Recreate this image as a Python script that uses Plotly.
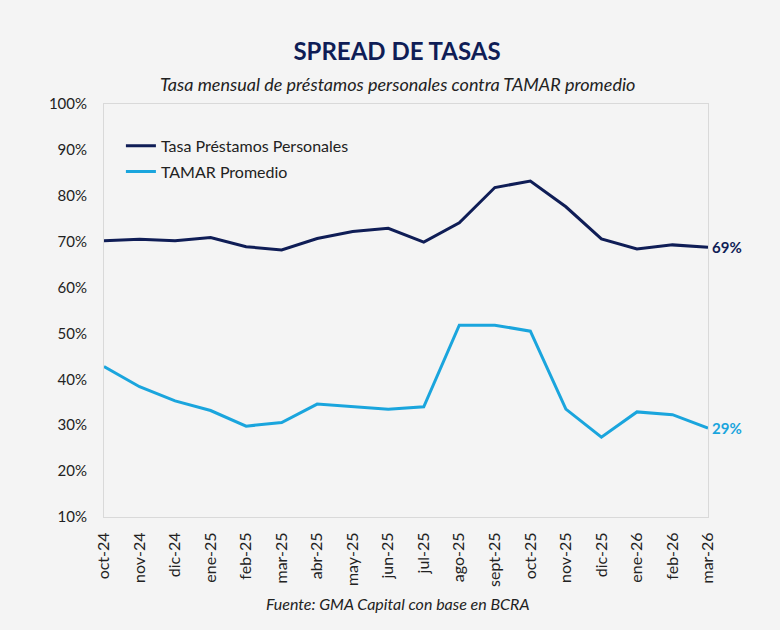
import plotly.graph_objects as go

months = ["oct-24", "nov-24", "dic-24", "ene-25", "feb-25", "mar-25", "abr-25", "may-25",
          "jun-25", "jul-25", "ago-25", "sept-25", "oct-25", "nov-25", "dic-25", "ene-26",
          "feb-26", "mar-26"]
tasa_prestamos = [70.2, 70.5, 70.2, 70.9, 68.9, 68.2, 70.7, 72.2, 72.9, 69.9, 74.1, 81.8,
                  83.2, 77.6, 70.6, 68.4, 69.3, 68.8]
tamar = [42.8, 38.4, 35.3, 33.2, 29.8, 30.6, 34.6, 34.0, 33.5, 34.0, 51.8, 51.8, 50.5,
         33.5, 27.4, 32.9, 32.3, 29.4]

NAVY = "#0f1d56"
BLUE = "#1aa5dd"
BG = "#f4f4f4"
FONT = "Lato"

PLOT_TOP, PLOT_BOTTOM = 104, 517
def py(px):
    return (PLOT_BOTTOM - px) / (PLOT_BOTTOM - PLOT_TOP)

fig = go.Figure()
fig.add_trace(go.Scatter(x=months, y=tasa_prestamos, mode="lines", name="Tasa Préstamos Personales",
                         legendgroup="a", line=dict(color=NAVY, width=3)))
fig.add_trace(go.Scatter(x=months, y=tamar, mode="lines", name="TAMAR Promedio",
                         legendgroup="b", line=dict(color=BLUE, width=3)))

fig.add_annotation(x=months[-1], y=tasa_prestamos[-1], text=f"<b>{round(tasa_prestamos[-1])}%</b>",
                   showarrow=False, xanchor="left", xshift=2, font=dict(color=NAVY, size=15, family=FONT))
fig.add_annotation(x=months[-1], y=tamar[-1], text=f"<b>{round(tamar[-1])}%</b>",
                   showarrow=False, xanchor="left", xshift=2, font=dict(color=BLUE, size=15, family=FONT))

fig.add_annotation(x=(397.5 - 104) / 604, y=py(84), xref="paper", yref="paper",
                   text="<i>Tasa mensual de préstamos personales contra TAMAR promedio</i>",
                   showarrow=False, xanchor="center", yanchor="middle",
                   font=dict(size=18, color="#222222", family=FONT))
fig.add_annotation(x=(398 - 104) / 604, y=py(603), xref="paper", yref="paper",
                   text="<i>Fuente: GMA Capital con base en BCRA</i>",
                   showarrow=False, xanchor="center", yanchor="middle",
                   font=dict(size=16, color="#222222", family=FONT))

fig.update_layout(
    width=780, height=630,
    paper_bgcolor=BG, plot_bgcolor=BG,
    margin=dict(l=104, r=72, t=104, b=113),
    font=dict(family=FONT, color="#222222"),
    title=dict(text="<b>SPREAD DE TASAS</b>", x=(397 - 104) / 604, xref="paper", xanchor="center",
               y=1 - 52 / 630, yanchor="middle", font=dict(size=24, color=NAVY, family=FONT)),
    legend=dict(x=0.028, y=0.94, xanchor="left", yanchor="top", bgcolor="rgba(0,0,0,0)",
                font=dict(size=16, color="#222222", family=FONT), itemwidth=30, tracegroupgap=2),
    xaxis=dict(type="category", range=[0, len(months) - 1], tickangle=-90, showgrid=False,
               showline=True, linecolor="#d9d9d9", mirror=True, ticks="", ticklabelstandoff=8,
               tickfont=dict(size=16, color="#222222")),
    yaxis=dict(range=[10, 100], dtick=10, ticksuffix="%", showgrid=False, zeroline=False,
               showline=True, linecolor="#d9d9d9", mirror=True, ticks="", ticklabelstandoff=13,
               tickfont=dict(size=15, color="#222222")),
)

fig.write_html("out.html", config={"displayModeBar": False},
               post_script="document.body.style.margin='0';document.body.style.backgroundColor='#f4f4f4';")
